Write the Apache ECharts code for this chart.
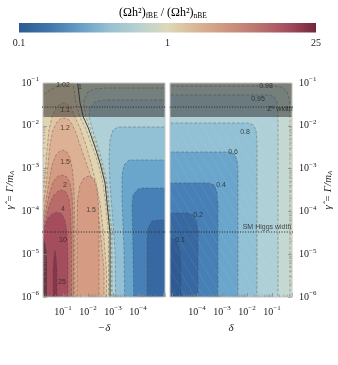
<!DOCTYPE html>
<html>
<head>
<meta charset="utf-8">
<script src="https://cdn.jsdelivr.net/npm/echarts@6/dist/echarts.min.js"></script>
<style>html,body{margin:0;padding:0;background:#fff;}#chart{width:338px;height:365px;}</style>
</head>
<body>
<div id="chart"></div>
<script>
// ===================== DATA =====================
// contour levels of (Ωh²)_fBE / (Ωh²)_nBE
const levels = [0.1, 0.2, 0.4, 0.6, 0.8, 0.95, 0.98, 1, 1.02, 1.1, 1.2, 1.5, 2, 4, 10, 25];
const colorbarTicks = ['0.1', '1', '25'];
const xTickExps = [-1, -2, -3, -4];          // labelled decades on both δ axes
const yTickExps = [-1, -2, -3, -4, -5, -6];  // labelled decades of γ̂
const xRangeExp = [-5.08, -0.2];             // log10|δ| range of each panel
const yRangeExp = [-6, -1];                  // log10 γ̂ range
const refLines = [
  { name: 'Z⁰ width', gamma: 0.0274, labelExp: [-0.68, -1.61] },
  { name: 'SM Higgs width', gamma: 3.3e-5, labelExp: [-1.2, -4.36] }
];
// excluded (shaded) region: γ̂ above this value
const shadeGammaExp = -1.794;

// Contour regions. Points are [log10|δ|, log10 γ̂].
// Left panel (δ < 0) – regions where ratio >= level
const L_ge_1    = [[0.72,-6.54],[0.72,-0.8],[-1.56,-0.8],[-1.588,-1.0],[-1.68,-1.467],[-1.812,-1.794],[-2.012,-2.051],[-2.28,-2.495],[-2.48,-2.869],[-2.68,-3.336],[-2.76,-3.804],[-2.88,-4.505],[-2.88,-6.54]];
const L_line_1  = [[-1.56,-0.8],[-1.588,-1.0],[-1.68,-1.467],[-1.812,-1.794],[-2.012,-2.051],[-2.28,-2.495],[-2.48,-2.869],[-2.68,-3.336],[-2.76,-3.804],[-2.88,-4.505],[-2.88,-6.54]];
const L_ge_1_02 = [[0.72,-6.54],[0.72,-1.397],[-0.2,-1.28],[-0.56,-1.14],[-0.88,-1.047],[-1.12,-1.0],[-1.24,-0.883],[-1.36,-0.883],[-1.40,-1.0],[-1.52,-1.467],[-1.68,-1.794],[-1.90,-2.051],[-2.18,-2.495],[-2.40,-2.869],[-2.60,-3.336],[-2.70,-3.804],[-2.82,-4.505],[-2.82,-6.54]];
const L_ge_1_1  = [[0.72,-6.54],[0.72,-3.617],[-0.2,-3.5],[-0.28,-3.15],[-0.36,-2.565],[-0.44,-2.098],[-0.56,-1.794],[-0.72,-1.584],[-0.88,-1.49],[-1.0,-1.467],[-1.16,-1.49],[-1.32,-1.584],[-1.48,-1.794],[-1.68,-2.051],[-1.92,-2.449],[-2.12,-2.869],[-2.32,-3.336],[-2.48,-3.804],[-2.62,-4.505],[-2.74,-5.369],[-2.74,-6.54]];
const L_ge_1_2  = [[0.72,-6.54],[0.72,-3.967],[-0.2,-3.85],[-0.32,-3.383],[-0.40,-2.916],[-0.48,-2.449],[-0.60,-2.098],[-0.76,-1.911],[-0.92,-1.829],[-1.04,-1.818],[-1.20,-1.841],[-1.36,-1.958],[-1.52,-2.168],[-1.72,-2.519],[-1.96,-2.916],[-2.20,-3.336],[-2.36,-3.804],[-2.50,-4.505],[-2.64,-5.369],[-2.64,-6.54]];
const L_ge_1_5a = [[0.72,-6.54],[0.72,-4.201],[-0.2,-4.084],[-0.32,-3.734],[-0.44,-3.313],[-0.56,-2.916],[-0.72,-2.682],[-0.88,-2.589],[-1.0,-2.565],[-1.16,-2.612],[-1.28,-2.752],[-1.38,-3.033],[-1.44,-3.5],[-1.48,-4.435],[-1.48,-6.54]];
const L_ge_1_5b = [[-1.56,-6.54],[-1.56,-4.435],[-1.58,-3.734],[-1.68,-3.383],[-1.84,-3.22],[-2.04,-3.173],[-2.24,-3.243],[-2.36,-3.453],[-2.42,-3.85],[-2.44,-4.668],[-2.44,-6.54]];
const L_ge_2    = [[0.72,-6.54],[0.72,-4.341],[-0.2,-4.248],[-0.32,-3.967],[-0.44,-3.617],[-0.60,-3.313],[-0.80,-3.173],[-1.0,-3.15],[-1.16,-3.196],[-1.28,-3.336],[-1.36,-3.617],[-1.40,-4.084],[-1.42,-4.902],[-1.42,-6.54]];
const L_ge_4    = [[0.72,-6.54],[0.72,-4.458],[-0.2,-4.388],[-0.32,-4.154],[-0.44,-3.874],[-0.60,-3.64],[-0.80,-3.523],[-0.96,-3.5],[-1.12,-3.547],[-1.24,-3.711],[-1.30,-4.014],[-1.34,-4.668],[-1.34,-6.54]];
const L_ge_10   = [[0.72,-6.54],[0.72,-4.575],[-0.2,-4.505],[-0.28,-4.318],[-0.40,-4.154],[-0.56,-4.061],[-0.76,-4.014],[-0.96,-4.061],[-1.08,-4.201],[-1.16,-4.481],[-1.20,-5.019],[-1.20,-6.54]];
const L_ge_25   = [[-0.60,-6.54],[-0.60,-5.369],[-0.64,-5.042],[-0.68,-4.902],[-0.72,-5.042],[-0.76,-5.369],[-0.76,-6.54]];
// Left panel – regions where ratio <= level
const L_le_0_98 = [[-2.92,-6.54],[-2.92,-4.505],[-2.80,-3.804],[-2.72,-3.336],[-2.52,-2.869],[-2.34,-2.495],[-2.08,-2.051],[-1.92,-1.794],[-1.84,-1.514],[-1.84,-1.397],[-2.0,-1.21],[-2.28,-1.14],[-2.68,-1.117],[-6,-1.117],[-6,-6.54]];
const L_le_0_95 = [[-2.96,-6.54],[-2.96,-4.505],[-2.84,-3.804],[-2.76,-3.336],[-2.58,-2.869],[-2.40,-2.495],[-2.16,-2.051],[-2.04,-1.794],[-2.08,-1.584],[-2.28,-1.444],[-2.68,-1.397],[-6,-1.397],[-6,-6.54]];
const L_le_0_8  = [[-3.12,-6.54],[-3.08,-4.902],[-2.96,-3.967],[-2.88,-3.383],[-2.84,-2.799],[-2.88,-2.332],[-3.0,-2.098],[-3.2,-2.028],[-6,-2.028],[-6,-6.54]];
const L_le_0_6  = [[-3.48,-6.54],[-3.44,-4.902],[-3.36,-3.734],[-3.36,-3.15],[-3.44,-2.916],[-3.64,-2.799],[-6,-2.799],[-6,-6.54]];
const L_le_0_4  = [[-3.84,-6.54],[-3.80,-4.902],[-3.76,-3.85],[-3.80,-3.617],[-4.0,-3.477],[-4.2,-3.453],[-6,-3.453],[-6,-6.54]];
const L_le_0_2  = [[-4.36,-6.54],[-4.36,-4.668],[-4.40,-4.388],[-4.56,-4.224],[-4.8,-4.201],[-6,-4.201],[-6,-6.54]];
const L_shade   = [[0.72,-6.54],[0.72,-4.668],[-0.2,-4.598],[-0.28,-4.715],[-0.34,-4.949],[-0.36,-5.252],[-0.36,-6.54]];
// Right panel (δ > 0) – regions where ratio <= level
const R_le_0_98 = [[-6,-6.54],[-6,-1.07],[-0.9,-1.07],[-0.6,-1.1],[-0.4,-1.2],[-0.3,-1.4],[-0.28,-1.8],[-0.28,-6.54]];
const R_le_0_95 = [[-6,-6.54],[-6,-1.28],[-1.1,-1.28],[-0.9,-1.33],[-0.8,-1.45],[-0.76,-1.7],[-0.76,-6.54]];
const R_le_0_8  = [[-6,-6.54],[-6,-1.935],[-1.95,-1.935],[-1.75,-1.98],[-1.64,-2.1],[-1.6,-2.35],[-1.6,-6.54]];
const R_le_0_6  = [[-6,-6.54],[-6,-2.612],[-2.7,-2.612],[-2.5,-2.66],[-2.4,-2.8],[-2.36,-3.0],[-2.36,-6.54]];
const R_le_0_4  = [[-6,-6.54],[-6,-3.336],[-3.5,-3.336],[-3.3,-3.39],[-3.2,-3.55],[-3.16,-3.8],[-3.16,-6.54]];
const R_le_0_2  = [[-6,-6.54],[-6,-4.037],[-4.35,-4.037],[-4.15,-4.09],[-4.0,-4.25],[-3.96,-4.5],[-3.96,-6.54]];
const R_le_0_1  = [[-6,-6.54],[-6,-4.62],[-5.1,-4.62],[-4.9,-4.66],[-4.75,-4.8],[-4.66,-5.0],[-4.64,-5.3],[-4.64,-6.54]];

// contour labels [log10|δ|, log10 γ̂, text]
const leftLabels = [[-1.0,-1.047,'1.02'],[-1.68,-1.09,'1'],[-1.08,-1.631,'1.1'],[-1.08,-2.051,'1.2'],[-1.08,-2.846,'1.5'],[-1.08,-3.383,'2'],[-1.0,-3.944,'4'],[-2.12,-3.967,'1.5'],[-1.0,-4.668,'10'],[-0.96,-5.65,'25']];
const rightLabels = [[-1.24,-1.07,'0.98'],[-1.56,-1.374,'0.95'],[-2.08,-2.145,'0.8'],[-2.56,-2.612,'0.6'],[-3.04,-3.383,'0.4'],[-3.96,-4.084,'0.2'],[-4.68,-4.668,'0.1']];

// ===================== STYLE =====================
const bandColors = ['#2e5b93','#3768a1','#4680b6','#6aa5cc','#92c0d5','#afd0d7','#c4d9d2','#d4ddc8',
                    '#dfdbbc','#e3d4b1','#e2c5a4','#ddb193','#d59c83','#c98574','#b96b69','#a44d5d','#86354a'];
const colorbarColors = ['#2d5a92','#3f75ab','#659cc3','#95bfd0','#b7d1d1','#dcd9b9','#d9b495','#cd9580','#bb7670','#a5505f','#74263b'];
const shadeColor = 'rgba(45,45,45,0.52)';
const serif = '"Liberation Serif", "DejaVu Serif", serif';
const sans = '"Liberation Sans", "DejaVu Sans", sans-serif';

function band(level, side) {
  const k = levels.indexOf(level);
  return bandColors[side === 'ge' ? k + 1 : k];
}
const BG = [[-8,-8],[2,-8],[2,0],[-8,0]];
const SHADE_TOP = [[2, shadeGammaExp],[-8, shadeGammaExp],[-8, 0],[2, 0]];

const leftItems = [
  { fill: band(0.98, 'ge'), pts: BG },
  { fill: band(1, 'ge'), pts: L_ge_1 },
  { fill: band(1.02, 'ge'), dash: true, pts: L_ge_1_02 },
  { fill: band(1.1, 'ge'), dash: true, pts: L_ge_1_1 },
  { fill: band(1.2, 'ge'), dash: true, pts: L_ge_1_2 },
  { fill: band(1.5, 'ge'), dash: true, pts: L_ge_1_5a },
  { fill: band(1.5, 'ge'), dash: true, pts: L_ge_1_5b },
  { fill: band(2, 'ge'), dash: true, pts: L_ge_2 },
  { fill: band(4, 'ge'), dash: true, pts: L_ge_4 },
  { fill: band(10, 'ge'), dash: true, pts: L_ge_10 },
  { fill: band(25, 'ge'), dash: true, pts: L_ge_25 },
  { fill: band(0.98, 'le'), dash: true, pts: L_le_0_98 },
  { fill: band(0.95, 'le'), dash: true, pts: L_le_0_95 },
  { fill: band(0.8, 'le'), dash: true, pts: L_le_0_8 },
  { fill: band(0.6, 'le'), dash: true, pts: L_le_0_6 },
  { fill: band(0.4, 'le'), dash: true, pts: L_le_0_4 },
  { fill: band(0.2, 'le'), dash: true, pts: L_le_0_2 },
  { kind: 'line', pts: L_line_1 },
  { fill: shadeColor, pts: L_shade },
  { fill: shadeColor, pts: SHADE_TOP }
];
const rightItems = [
  { fill: band(0.98, 'ge'), pts: BG },
  { fill: band(0.98, 'le'), dash: true, pts: R_le_0_98 },
  { fill: band(0.95, 'le'), dash: true, pts: R_le_0_95 },
  { fill: band(0.8, 'le'), dash: true, pts: R_le_0_8 },
  { fill: band(0.6, 'le'), dash: true, pts: R_le_0_6 },
  { fill: band(0.4, 'le'), dash: true, pts: R_le_0_4 },
  { fill: band(0.2, 'le'), dash: true, pts: R_le_0_2 },
  { fill: band(0.1, 'le'), dash: true, pts: R_le_0_1 },
  { kind: 'hatch' },
  { fill: shadeColor, pts: SHADE_TOP }
];

const P = (e) => Math.pow(10, e);

function regionRenderer(items) {
  return function (params, api) {
    const it = items[api.value(2)];
    if (it.kind === 'hatch') {
      const cs = params.coordSys;
      const lines = [];
      for (let x0 = cs.x - 200; x0 < cs.x + cs.width + 10; x0 += 9) {
        lines.push({ type: 'line', shape: { x1: x0, y1: cs.y, x2: x0 + cs.height / 1.7, y2: cs.y + cs.height },
          style: { stroke: 'rgba(255,255,255,0.13)', lineWidth: 0.6 } });
      }
      return { type: 'group', children: lines };
    }
    const pts = it.pts.map(p => api.coord([P(p[0]), P(p[1])]));
    if (it.kind === 'line') {
      return { type: 'polyline', shape: { points: pts }, style: { stroke: '#2a2a2a', lineWidth: 0.9, fill: null } };
    }
    return {
      type: 'polygon', shape: { points: pts },
      style: { fill: it.fill, stroke: it.dash ? 'rgba(70,70,70,0.5)' : null, lineWidth: 0.75, lineDash: it.dash ? [3, 1.7] : null }
    };
  };
}

const minorMults = [2, 3, 4, 5, 6, 7, 8, 9];
function frameRenderer(side) {
  return function (params, api) {
    const cs = params.coordSys;
    const children = [{ type: 'rect', shape: { x: cs.x, y: cs.y, width: cs.width, height: cs.height },
      style: { fill: null, stroke: '#c4c4c4', lineWidth: 1 } }];
    for (let d = -7; d <= 0; d++) {
      for (const m of minorMults) {
        const v = m * P(d);
        const px = api.coord([v, 1e-3])[0];
        if (px > cs.x + 1 && px < cs.x + cs.width - 1) {
          children.push({ type: 'line', shape: { x1: px, y1: cs.y + cs.height, x2: px, y2: cs.y + cs.height - 2.5 },
            style: { stroke: '#8a8a8a', lineWidth: 0.6 } });
        }
        const py = api.coord([1e-3, v])[1];
        if (py > cs.y + 1 && py < cs.y + cs.height - 1) {
          const xe = side === 'left' ? cs.x : cs.x + cs.width;
          const dir = side === 'left' ? 1 : -1;
          children.push({ type: 'line', shape: { x1: xe, y1: py, x2: xe + dir * 2.5, y2: py },
            style: { stroke: '#8a8a8a', lineWidth: 0.6 } });
        }
      }
    }
    return { type: 'group', children };
  };
}

function expLabel(v, allowed) {
  const e = Math.log10(v), r = Math.round(e);
  if (Math.abs(e - r) > 1e-6 || allowed.indexOf(r) < 0) return '';
  return '{b|10}{s|' + String(r).replace('-', '−') + '}';
}
const labelRich = {
  b: { fontFamily: serif, fontSize: 10, color: '#222' },
  s: { fontFamily: serif, fontSize: 7, color: '#222', padding: [0, 0, 7, 0] }
};
const nameRich = {
  i: { fontFamily: serif, fontStyle: 'italic', fontSize: 11, color: '#222' },
  s: { fontFamily: serif, fontStyle: 'italic', fontSize: 7, color: '#222', padding: [5, 0, 0, 0] }
};

function xAxisCfg(gi, inverse, name) {
  return {
    gridIndex: gi, type: 'log', logBase: 10, inverse: inverse,
    min: P(xRangeExp[0]), max: P(xRangeExp[1]), z: 5,
    axisLine: { show: false }, splitLine: { show: false },
    axisTick: { show: true, inside: true, length: 4, lineStyle: { color: '#8a8a8a', width: 0.8 } },
    axisLabel: { margin: 8, formatter: v => expLabel(v, xTickExps), rich: labelRich },
    name: name, nameLocation: 'middle', nameGap: 26,
    nameTextStyle: { fontFamily: serif, fontStyle: 'italic', fontSize: 11, color: '#222' }
  };
}
function yAxisCfg(gi, pos) {
  return {
    gridIndex: gi, type: 'log', logBase: 10, position: pos,
    min: P(yRangeExp[0]), max: P(yRangeExp[1]), z: 5,
    axisLine: { show: false }, splitLine: { show: false },
    axisTick: { show: true, inside: true, length: 4, lineStyle: { color: '#8a8a8a', width: 0.8 } },
    axisLabel: { margin: pos === 'left' ? 4 : 7, formatter: v => expLabel(v, yTickExps), rich: labelRich },
    name: '{i|γ̂ = Γ/m}{s|A}', nameLocation: 'middle', nameGap: pos === 'left' ? 27 : 30, nameRotate: 90,
    nameTextStyle: { rich: nameRich }
  };
}

function labelSeries(gi, arr) {
  return {
    type: 'scatter', xAxisIndex: gi, yAxisIndex: gi, symbolSize: 0, z: 20, silent: true, clip: false,
    data: arr.map(a => ({ value: [P(a[0]), P(a[1])], name: a[2] })),
    label: { show: true, position: 'inside', formatter: p => p.name, fontFamily: sans, fontSize: 7, color: '#262626' }
  };
}
function refLineSeries(gi) {
  return refLines.map(r => ({
    type: 'line', xAxisIndex: gi, yAxisIndex: gi, symbol: 'none', z: 15, silent: true,
    data: [[P(-8), r.gamma], [P(2), r.gamma]],
    lineStyle: { color: '#222', width: 1, type: [1, 1.6] }
  }));
}

const cb = { x: 19, y: 23, w: 297, h: 9.5 };
function cbPos(v) { return v <= 1 ? 0.5 * (1 + Math.log10(v)) : 0.5 + 0.5 * Math.log10(v) / Math.log10(25); }

const chart = echarts.init(document.getElementById('chart'), null, { renderer: 'canvas', width: 338, height: 365 });
chart.setOption({
  animation: false,
  backgroundColor: '#fff',
  grid: [
    { left: 43, top: 83, width: 122, height: 214 },
    { left: 170, top: 83, width: 122, height: 214 }
  ],
  xAxis: [xAxisCfg(0, true, '−δ'), xAxisCfg(1, false, 'δ')],
  yAxis: [yAxisCfg(0, 'left'), yAxisCfg(1, 'right')],
  graphic: [
    { type: 'text', x: 163, y: 13, z: 10,
      style: { text: '{a|(Ωh²)}{b|fBE}{a| / (Ωh²)}{b|nBE}', align: 'center', verticalAlign: 'middle',
        rich: { a: { fontFamily: serif, fontSize: 12, color: '#222' }, b: { fontFamily: serif, fontSize: 7.5, color: '#222', padding: [6, 0, 0, 0] } } } },
    { type: 'rect', z: 10, shape: { x: cb.x, y: cb.y, width: cb.w, height: cb.h },
      style: { fill: new echarts.graphic.LinearGradient(0, 0, 1, 0,
        colorbarColors.map((c, i) => ({ offset: i / (colorbarColors.length - 1), color: c }))) } }
  ].concat(colorbarTicks.map(t => ({
    type: 'text', z: 10, x: cb.x + cb.w * cbPos(parseFloat(t)), y: 43,
    style: { text: t, fontFamily: serif, fontSize: 10, fill: '#222', align: 'center', verticalAlign: 'middle' }
  }))),
  series: [
    { type: 'custom', xAxisIndex: 0, yAxisIndex: 0, clip: true, silent: true, z: 2,
      renderItem: regionRenderer(leftItems), data: leftItems.map((_, i) => [1e-3, 1e-3, i]), encode: { x: 0, y: 1 } },
    { type: 'custom', xAxisIndex: 1, yAxisIndex: 1, clip: true, silent: true, z: 2,
      renderItem: regionRenderer(rightItems), data: rightItems.map((_, i) => [1e-3, 1e-3, i]), encode: { x: 0, y: 1 } },
    ...refLineSeries(0), ...refLineSeries(1),
    { type: 'custom', xAxisIndex: 0, yAxisIndex: 0, clip: false, silent: true, z: 12,
      renderItem: frameRenderer('left'), data: [[1e-3, 1e-3, 0]], encode: { x: 0, y: 1 } },
    { type: 'custom', xAxisIndex: 1, yAxisIndex: 1, clip: false, silent: true, z: 12,
      renderItem: frameRenderer('right'), data: [[1e-3, 1e-3, 0]], encode: { x: 0, y: 1 } },
    labelSeries(0, leftLabels),
    labelSeries(1, rightLabels),
    { type: 'scatter', xAxisIndex: 1, yAxisIndex: 1, symbolSize: 0, z: 20, silent: true, clip: false,
      data: refLines.map(r => ({ value: [P(r.labelExp[0]), P(r.labelExp[1])], name: r.name })),
      label: { show: true, position: 'inside', formatter: p => p.name, fontFamily: sans, fontSize: 7, color: '#1e1e1e' } }
  ]
});
</script>
</body>
</html>
